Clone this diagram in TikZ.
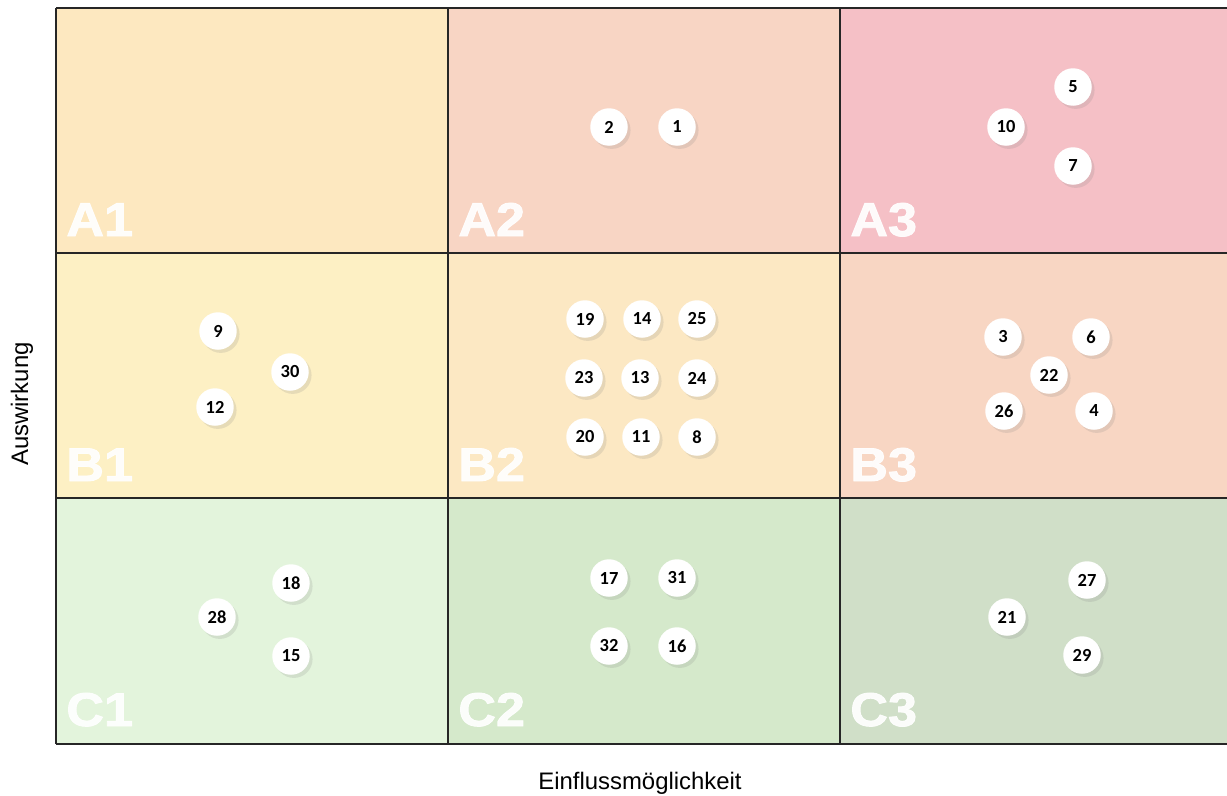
\documentclass[tikz,border=0pt]{standalone}
\usepackage{fontspec}
\setmainfont{Liberation Sans}
\newfontfamily\numfont{Carlito}
\newfontfamily\zonefont[BoldFeatures={FakeBold=1.6}]{Liberation Sans}
\usetikzlibrary{shadows}
\definecolor{cellA1}{HTML}{FDE8C0}
\definecolor{cellA2}{HTML}{F8D5C4}
\definecolor{cellA3}{HTML}{F5C0C6}
\definecolor{cellB1}{HTML}{FDF0C4}
\definecolor{cellB2}{HTML}{FCE8C3}
\definecolor{cellB3}{HTML}{F8D6C3}
\definecolor{cellC1}{HTML}{E3F4DC}
\definecolor{cellC2}{HTML}{D5E9CB}
\definecolor{cellC3}{HTML}{D0DFC8}
\begin{document}
\begin{tikzpicture}[x=0.02cm,y=-0.02cm,
  risk/.style={circle,fill=white,inner sep=0pt,minimum size=0.75cm,
    font=\numfont\bfseries\fontsize{10.5}{10.5}\selectfont,
    drop shadow={opacity=0.18,shadow xshift=1.6pt,shadow yshift=-1.8pt}},
  zone/.style={anchor=base west,inner sep=0pt,text=white,text opacity=0.92,
    font=\zonefont\bfseries\fontsize{27}{27}\selectfont},
  axis/.style={font=\fontsize{13.6}{14}\selectfont}]
  \useasboundingbox (0,0) rectangle (1227,795);
  % cells of the matrix
  \foreach \r/\y in {A/8,B/253,C/498}
    \foreach \c/\x in {1/56,2/448,3/840}{
      \fill[cell\r\c] (\x,\y) rectangle ++(392,245);
      \node[zone] (z\r\c) at (\x+10,\y+228) {\scalebox{1.1}[1]{\r\c}};
    }
  % grid
  \foreach \y in {8,253,498,744}
    \draw[line width=1.5pt,black!85] (56,\y)--(1227,\y);
  \foreach \x in {56,448,840}
    \draw[line width=1.5pt,black!85] (\x,8)--(\x,744);
  % risks
  \foreach \n/\x/\y in {2/609/127,1/677/127,5/1073/87,10/1006/127,7/1073/166,
      9/218/331,30/290/372,12/215/407,
      19/585/319,14/642/319,25/697/319,23/584/378,13/640/378,24/697/378,
      20/585/437,11/641/437,8/697/437,
      3/1003/337,6/1091/337,22/1049/375,26/1004/411,4/1094/411,
      18/291/583,28/217/617,15/291/656,
      17/609/578,31/677/578,32/609/646,16/677/646,
      27/1087/580,21/1007/617,29/1082/655}
    \node[risk] (r\n) at (\x,\y) {\n};
  % axes
  \node[axis] (xlab) at (640,783) {Einflussmöglichkeit};
  \node[axis,rotate=90] (ylab) at (22,404) {Auswirkung};
\end{tikzpicture}
\end{document}
